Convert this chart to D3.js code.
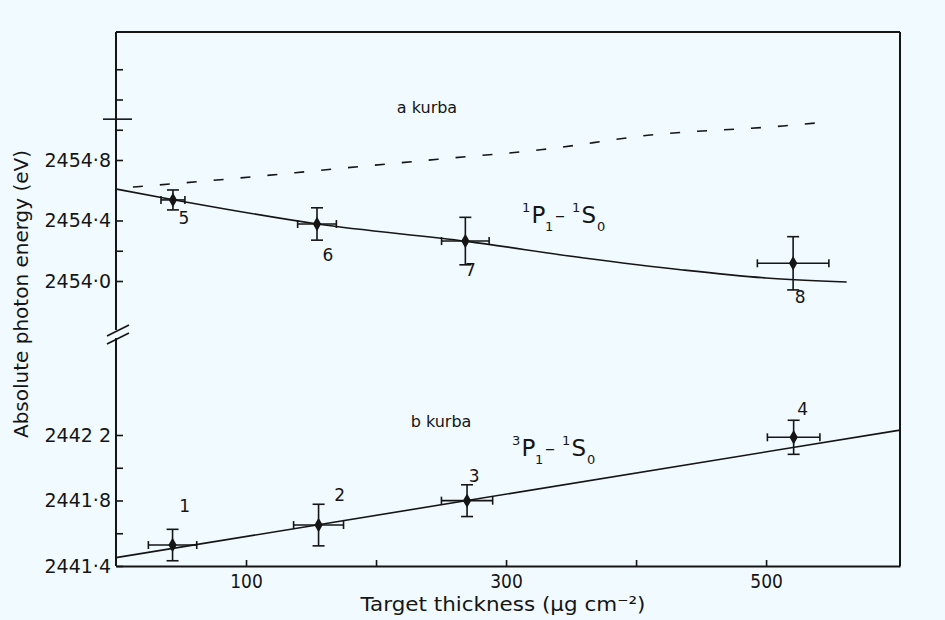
<!DOCTYPE html>
<html>
<head>
<meta charset="utf-8">
<script src="https://cdn.jsdelivr.net/npm/d3@7"></script>
<style>
  html, body { margin: 0; padding: 0; background: #f0faff; }
  svg { display: block; }
  text { font-family: 'DejaVu Sans', sans-serif; fill: #151515; }
</style>
</head>
<body>
<svg id="chart" width="945" height="620"></svg>
<script>
// ---------------- data ----------------
// x axis
const xTicks = [100, 200, 300, 400, 500];
const xTickLabels = ["100", "", "300", "", "500"];

// lower y segment (3P1 - 1S0)
const lowerTicks = [2441.4, 2441.6, 2441.8, 2442.0, 2442.2];
const lowerTickLabels = ["2441·4", "", "2441·8", "", "2442 2"];
// upper y segment (1P1 - 1S0)
const upperTicks = [2454.0, 2454.2, 2454.4, 2454.8, 2455.0, 2455.2, 2455.4];
const upperTickLabels = ["2454·0", "", "2454·4", "2454·8", "", "", ""];

// b kurba points 1-4
const bLabels = ["1", "2", "3", "4"];
const bX = [43.5, 155.8, 270, 521.2];
const bXErr = [18.6, 19.2, 19.7, 20.2];
const bY = [2441.528, 2441.650, 2441.799, 2442.186];
const bYErr = [0.096, 0.127, 0.097, 0.104];
// b fitted straight line
const bLineX = [0, 603];
const bLineY = [2441.451, 2442.230];

// a kurba points 5-8
const aLabels = ["5", "6", "7", "8"];
const aX = [43.8, 154.6, 268.7, 520.8];
const aXErr = [9.2, 14.9, 18.3, 27.5];
const aY = [2454.536, 2454.377, 2454.264, 2454.117];
const aYErr = [0.066, 0.107, 0.157, 0.176];
// a solid fitted curve
const aCurveX = [0, 45, 155, 270, 360, 436, 500, 562];
const aCurveY = [2454.608, 2454.536, 2454.377, 2454.262, 2454.152, 2454.073, 2454.020, 2453.993];
// dashed curve
const dashX = [13, 86, 167, 250, 328, 411, 513, 547];
const dashY = [2454.621, 2454.674, 2454.740, 2454.807, 2454.869, 2454.965, 2455.025, 2455.051];

// ---------------- layout ----------------
const ink = "#151515";
const W = 945, H = 620;
const mLeft = 116, mRight = 900, mTop = 32, mBottom = 566;

const svg = d3.select("#chart");
svg.append("rect").attr("width", W).attr("height", H).attr("fill", "#f0faff");

const x = d3.scaleLinear().domain([0, 603]).range([mLeft, mRight]);
const yLow = d3.scaleLinear().domain([2441.4, 2442.2]).range([mBottom, 435]);
const yUp = d3.scaleLinear().domain([2454.0, 2454.8]).range([281, 160]);

// ---------------- frame ----------------
const frame = svg.append("g").attr("stroke", ink).attr("fill", "none").attr("stroke-width", 2);
frame.append("line").attr("x1", mLeft).attr("x2", mRight).attr("y1", mTop).attr("y2", mTop);
frame.append("line").attr("x1", mRight).attr("x2", mRight).attr("y1", mTop).attr("y2", mBottom);
frame.append("line").attr("x1", mLeft).attr("x2", mLeft).attr("y1", mTop).attr("y2", 330);
frame.append("line").attr("x1", mLeft).attr("x2", mLeft).attr("y1", 338).attr("y2", mBottom);
// axis break marks
frame.append("line").attr("x1", 107).attr("y1", 336).attr("x2", 129).attr("y2", 325).attr("stroke-width", 1.6);
frame.append("line").attr("x1", 107).attr("y1", 344).attr("x2", 129).attr("y2", 333).attr("stroke-width", 1.6);
frame.append("line").attr("x1", 103).attr("y1", yUp(2455.07)).attr("x2", 132).attr("y2", yUp(2455.07)).attr("stroke-width", 1.6);

// ---------------- axes ----------------
const xAxis = d3.axisBottom(x)
  .tickValues(xTicks)
  .tickSizeInner(-6).tickSizeOuter(0).tickPadding(9)
  .tickFormat((d, i) => xTickLabels[i]);
const gx = svg.append("g").attr("transform", `translate(0,${mBottom})`).call(xAxis);
gx.select(".domain").attr("stroke", ink).attr("stroke-width", 2);
gx.selectAll(".tick line").attr("stroke", ink).attr("stroke-width", 1.6);
gx.selectAll(".tick text").attr("font-size", 19).attr("fill", ink)
  .style("font-family", "'DejaVu Sans Condensed', 'DejaVu Sans', sans-serif");

function yAxis(scale, ticks, labels) {
  const ax = d3.axisLeft(scale).tickValues(ticks)
    .tickSizeInner(-7).tickSizeOuter(0).tickPadding(5)
    .tickFormat((d, i) => labels[i]);
  const g = svg.append("g").attr("transform", `translate(${mLeft},0)`).call(ax);
  g.select(".domain").remove();
  g.selectAll(".tick line").attr("stroke", ink).attr("stroke-width", 1.6);
  g.selectAll(".tick text").attr("font-size", 19).attr("fill", ink);
  return g;
}
yAxis(yLow, lowerTicks, lowerTickLabels);
yAxis(yUp, upperTicks, upperTickLabels);

// axis titles
svg.append("text")
  .attr("x", 503).attr("y", 611).attr("text-anchor", "middle")
  .attr("font-size", 20).attr("textLength", 285).attr("lengthAdjust", "spacingAndGlyphs")
  .text("Target thickness (μg cm⁻²)");
svg.append("text")
  .attr("transform", "translate(28,294) rotate(-90)").attr("text-anchor", "middle")
  .attr("font-size", 20).attr("textLength", 288).attr("lengthAdjust", "spacingAndGlyphs")
  .text("Absolute photon energy (eV)");

// ---------------- curves ----------------
const lines = svg.append("g").attr("fill", "none").attr("stroke", ink);
lines.append("path")
  .attr("d", d3.line().x(d => x(d[0])).y(d => yLow(d[1]))(bLineX.map((v, i) => [v, bLineY[i]])))
  .attr("stroke-width", 1.6);
lines.append("path")
  .attr("d", d3.line().curve(d3.curveMonotoneX).x(d => x(d[0])).y(d => yUp(d[1]))(aCurveX.map((v, i) => [v, aCurveY[i]])))
  .attr("stroke-width", 1.6);
lines.append("path")
  .attr("d", d3.line().curve(d3.curveMonotoneX).x(d => x(d[0])).y(d => yUp(d[1]))(dashX.map((v, i) => [v, dashY[i]])))
  .attr("stroke-width", 1.6).attr("stroke-dasharray", "10,17");

// ---------------- points with error bars ----------------
function drawPoints(xs, ys, xe, ye, labels, yScale, offsets) {
  const g = svg.append("g");
  xs.forEach((xv, i) => {
    const px = x(xv), py = yScale(ys[i]);
    const x0 = x(xv - xe[i]), x1 = x(xv + xe[i]);
    const y0 = yScale(ys[i] - ye[i]), y1 = yScale(ys[i] + ye[i]);
    const eb = g.append("g").attr("stroke", ink).attr("stroke-width", 1.6);
    eb.append("line").attr("x1", x0).attr("x2", x1).attr("y1", py).attr("y2", py);
    eb.append("line").attr("x1", x0).attr("x2", x0).attr("y1", py - 4).attr("y2", py + 4);
    eb.append("line").attr("x1", x1).attr("x2", x1).attr("y1", py - 4).attr("y2", py + 4);
    eb.append("line").attr("x1", px).attr("x2", px).attr("y1", y0).attr("y2", y1);
    eb.append("line").attr("x1", px - 6).attr("x2", px + 6).attr("y1", y0).attr("y2", y0);
    eb.append("line").attr("x1", px - 6).attr("x2", px + 6).attr("y1", y1).attr("y2", y1);
    g.append("path").attr("d", d3.symbol(d3.symbolDiamond, 60)())
      .attr("transform", `translate(${px},${py})`).attr("fill", ink);
    g.append("text").attr("x", px + offsets[i][0]).attr("y", py + offsets[i][1])
      .attr("text-anchor", "middle").attr("dominant-baseline", "central")
      .attr("font-size", 17).text(labels[i]);
  });
}
drawPoints(bX, bY, bXErr, bYErr, bLabels, yLow, [[12, -39], [21, -30], [7, -25], [9, -28]]);
drawPoints(aX, aY, aXErr, aYErr, aLabels, yUp, [[11, 18], [11, 31], [5, 29], [7, 34]]);

// ---------------- annotations ----------------
svg.append("text").attr("x", 427).attr("y", 113).attr("text-anchor", "middle")
  .attr("font-size", 16).text("a kurba");
svg.append("text").attr("x", 441).attr("y", 427).attr("text-anchor", "middle")
  .attr("font-size", 16).text("b kurba");

function term(x0, y0, pre) {
  const g = svg.append("g");
  const t = (tx, ty, s, txt) => g.append("text").attr("x", tx).attr("y", ty).attr("font-size", s).text(txt);
  t(x0, y0 - 11, 13, pre);
  t(x0 + 9.5, y0, 23, "P");
  t(x0 + 23, y0 + 8, 13, "1");
  t(x0 + 33, y0 - 1, 20, "–");
  t(x0 + 50, y0 - 11, 13, "1");
  t(x0 + 59.5, y0, 23, "S");
  t(x0 + 75, y0 + 8, 13, "0");
}
term(522, 223, "1");
term(512, 456, "3");
</script>
</body>
</html>
